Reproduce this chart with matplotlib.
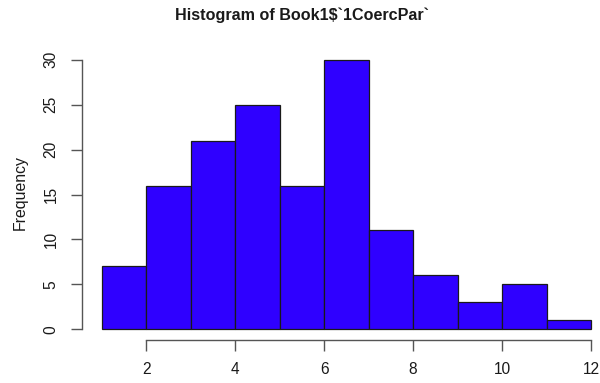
import numpy as np
import matplotlib
matplotlib.use("Agg")
import matplotlib.pyplot as plt

# histogram bins (width 1) and counts
bin_edges = [1, 2, 3, 4, 5, 6, 7, 8, 9, 10, 11, 12]
counts = [7, 16, 21, 25, 16, 30, 11, 6, 3, 5, 1]
x_ticks = [2, 4, 6, 8, 10, 12]
y_ticks = [0, 5, 10, 15, 20, 25, 30]

plt.rcParams['font.family'] = ['Liberation Sans', 'DejaVu Sans']

fig = plt.figure(figsize=(6.0, 3.83), dpi=100)
ax = fig.add_axes([82 / 600, 43 / 383, 528.7 / 600, 291 / 383])

edges = np.array(bin_edges)
ax.bar(edges[:-1], counts, width=np.diff(edges), align='edge',
       color='#2f00ff', edgecolor='#1a1a1a', linewidth=0.9)

ax.set_xlim(0.56, 12.44)
ax.set_ylim(-1.2, 31.2)

for s in ['top', 'right']:
    ax.spines[s].set_visible(False)
ax.spines['left'].set_bounds(0, 30)
ax.spines['bottom'].set_bounds(2, 12)
for s in ['left', 'bottom']:
    ax.spines[s].set_color('#555555')
    ax.spines[s].set_linewidth(1.0)

ax.set_xticks(x_ticks)
ax.set_yticks(y_ticks)
ax.tick_params(axis='both', direction='out', length=8, width=1.0,
               color='#555555', labelsize=11.2, labelcolor='#1a1a1a')
ax.tick_params(axis='x', pad=8)
ax.tick_params(axis='y', pad=9)
for lab in ax.get_yticklabels():
    lab.set_rotation(90)
    lab.set_va('center')

fig.text(302 / 600, 1 - 15 / 383, r"Histogram of Book1\$`1CoercPar`",
         ha='center', va='center', fontsize=11.6, fontweight='bold', color='#1a1a1a')
fig.text(20 / 600, 1 - 193 / 383, "Frequency", rotation=90,
         ha='center', va='center', fontsize=11.4, color='#1a1a1a')

fig.savefig("out.png", dpi=100)
